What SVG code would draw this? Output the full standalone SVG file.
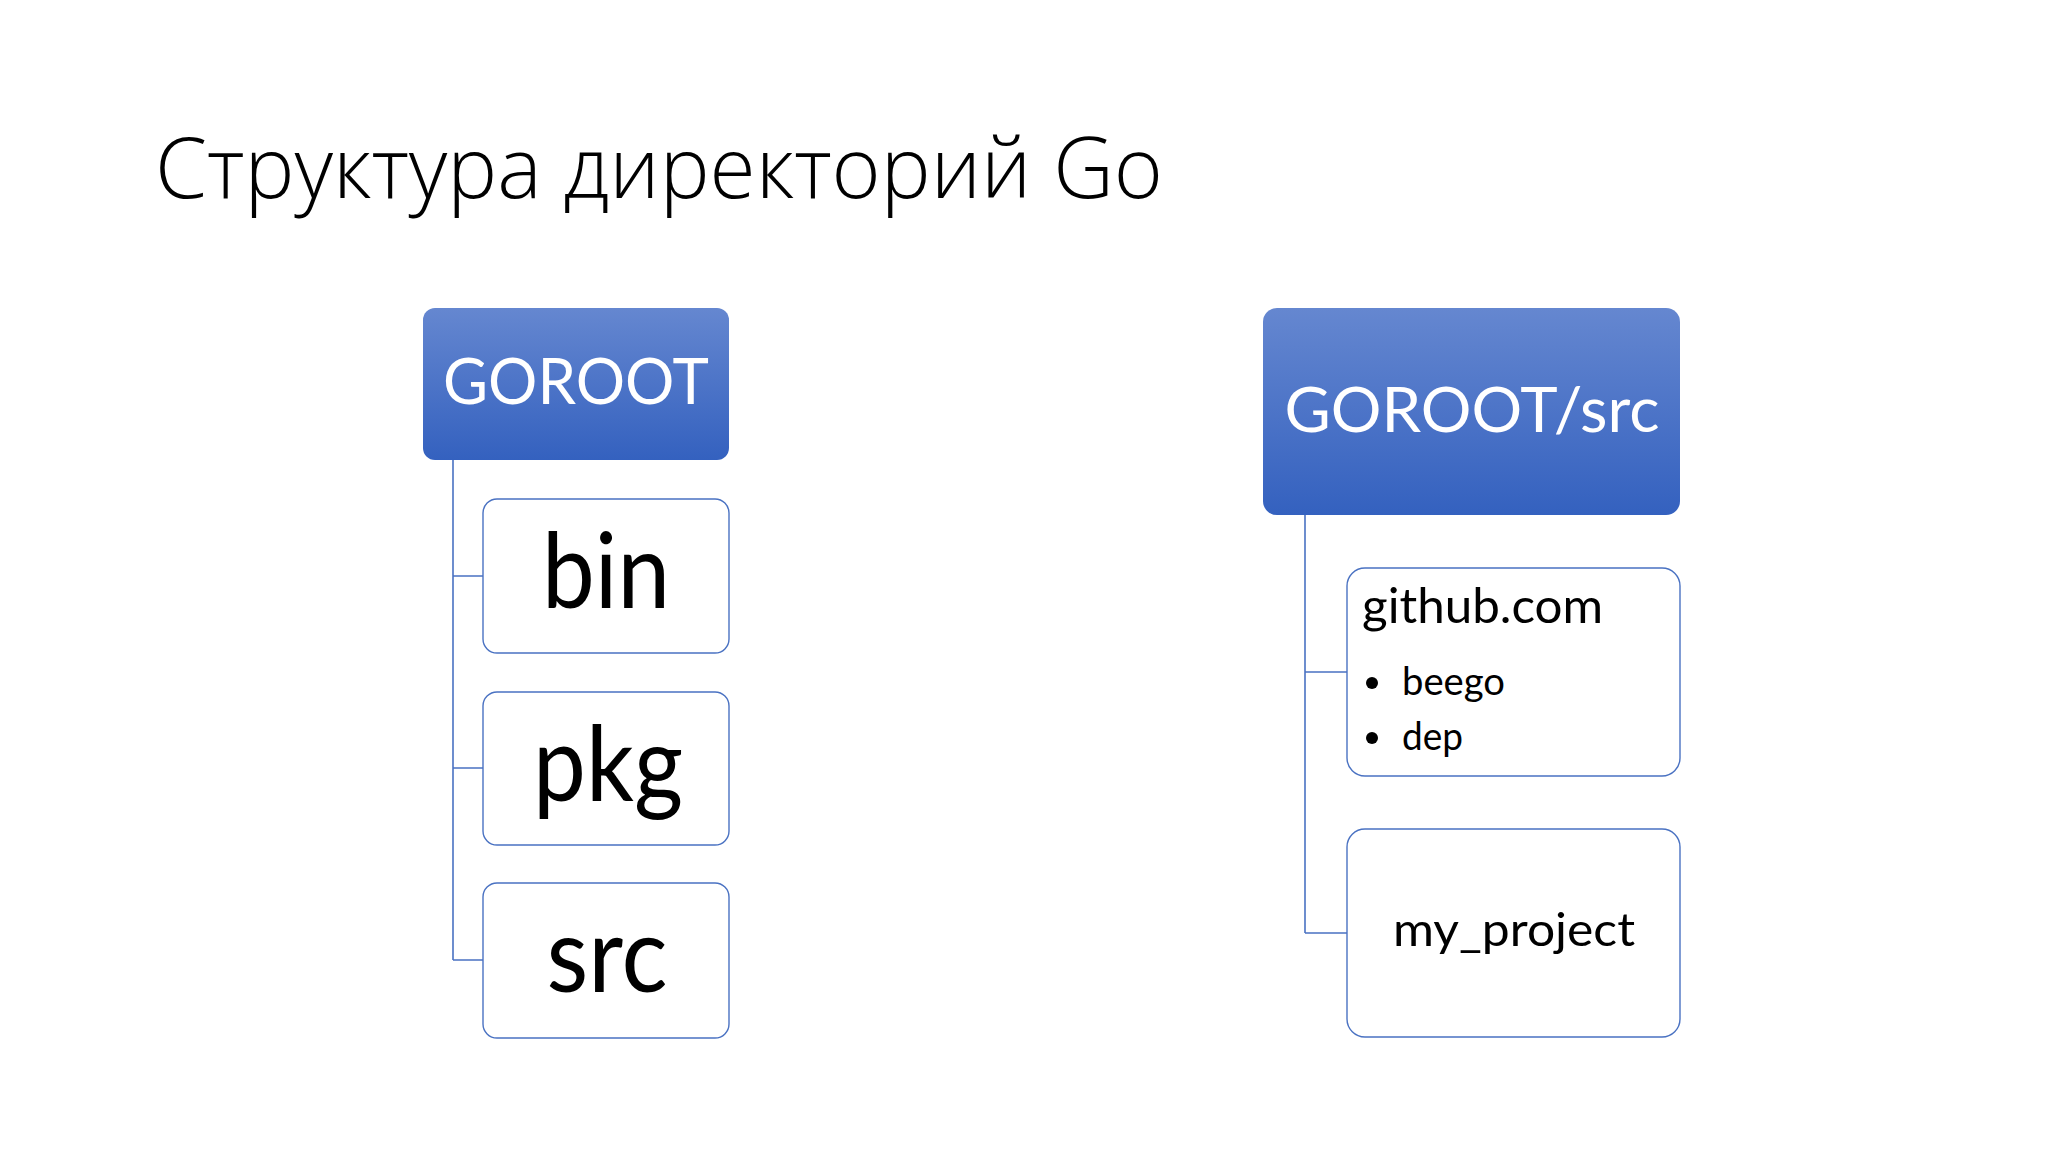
<svg xmlns="http://www.w3.org/2000/svg" width="2048" height="1152" viewBox="0 0 2048 1152">
<style>
.hdr{fill:url(#hg)}
.child{fill:#ffffff;stroke:#4a72c2;stroke-width:1.4}
.conn{fill:none;stroke:#4a72c2;stroke-width:1.6}
.ht{font-family:Lato,"Open Sans","Liberation Sans",sans-serif;fill:#ffffff;text-anchor:middle}
.ct{font-family:Lato,"Open Sans","Liberation Sans",sans-serif;fill:#000000}
.mid{text-anchor:middle}
</style>
<defs>
<linearGradient id="hg" x1="0" y1="0" x2="0" y2="1">
<stop offset="0" stop-color="#6587d0"/>
<stop offset="1" stop-color="#3461bf"/>
</linearGradient>
</defs>
<rect width="2048" height="1152" fill="#ffffff"/>
<text x="155" y="198" font-family="'Open Sans','Noto Sans','Liberation Sans',sans-serif" font-weight="300" font-size="84" fill="#000" textLength="1008" lengthAdjust="spacingAndGlyphs">Структура директорий Go</text>
<g id="connectors">
<path class="conn" d="M453,460 V960 M453,576 H483 M453,768 H483 M453,960 H483"/>
<path class="conn" d="M1305,515 V933 M1305,672 H1347 M1305,933 H1347"/>
</g>
<g id="goroot">
<rect class="hdr" x="423" y="308" width="306" height="152" rx="12"/>
<text class="ht" x="576" y="404" font-size="64" textLength="266" lengthAdjust="spacingAndGlyphs">GOROOT</text>
</g>
<g id="bin">
<rect class="child" x="483" y="499" width="246" height="154" rx="14"/>
<text class="ct mid" x="606" y="608" font-size="104" textLength="128" lengthAdjust="spacingAndGlyphs">bin</text>
</g>
<g id="pkg">
<rect class="child" x="483" y="692" width="246" height="153" rx="14"/>
<text class="ct mid" x="608" y="801" font-size="104" textLength="150" lengthAdjust="spacingAndGlyphs">pkg</text>
</g>
<g id="src">
<rect class="child" x="483" y="883" width="246" height="155" rx="14"/>
<text class="ct mid" x="607" y="992" font-size="104" textLength="121" lengthAdjust="spacingAndGlyphs">src</text>
</g>
<g id="goroot-src">
<rect class="hdr" x="1263" y="308" width="417" height="207" rx="14"/>
<text class="ht" x="1472" y="432" font-size="62" textLength="375" lengthAdjust="spacingAndGlyphs">GOROOT/src</text>
</g>
<g id="github">
<rect class="child" x="1347" y="568" width="333" height="208" rx="18"/>
<text class="ct" x="1362" y="623" font-size="48" textLength="241" lengthAdjust="spacingAndGlyphs">github.com</text>
<circle cx="1372" cy="683" r="6" fill="#000"/>
<text class="ct" x="1402" y="695" font-size="38" textLength="103" lengthAdjust="spacingAndGlyphs">beego</text>
<circle cx="1372" cy="738" r="6" fill="#000"/>
<text class="ct" x="1402" y="750" font-size="38" textLength="61" lengthAdjust="spacingAndGlyphs">dep</text>
</g>
<g id="my-project">
<rect class="child" x="1347" y="829" width="333" height="208" rx="18"/>
<text class="ct mid" x="1514" y="946" font-size="47" textLength="242" lengthAdjust="spacingAndGlyphs">my_project</text>
</g>
</svg>
